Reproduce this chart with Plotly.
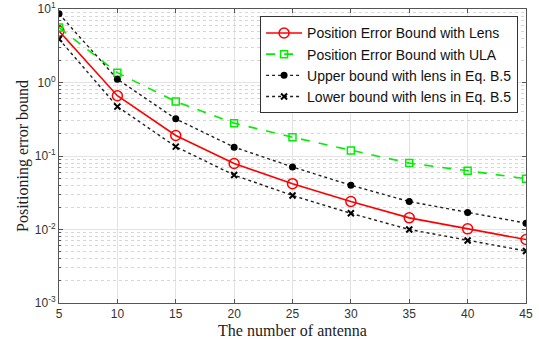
import plotly.graph_objects as go

antennas = [5, 10, 15, 20, 25, 30, 35, 40, 45]
peb_lens = [5.0, 0.66, 0.19, 0.079, 0.042, 0.024, 0.0144, 0.0102, 0.0073]
peb_ula = [5.6, 1.36, 0.55, 0.28, 0.18, 0.119, 0.080, 0.063, 0.049]
upper_lens = [8.6, 1.11, 0.32, 0.132, 0.071, 0.040, 0.024, 0.017, 0.0122]
lower_lens = [3.9, 0.47, 0.134, 0.055, 0.029, 0.0166, 0.0100, 0.0071, 0.0051]

x_ticks = [5, 10, 15, 20, 25, 30, 35, 40, 45]
y_tickvals = [1e-3, 1e-2, 1e-1, 1e0, 1e1]
y_ticktext = ["10<sup>-3</sup>", "10<sup>-2</sup>", "10<sup>-1</sup>", "10<sup>0</sup>", "10<sup>1</sup>"]
y_minor = [m * d for d in [1e-3, 1e-2, 1e-1, 1e0] for m in range(2, 10)]

fig = go.Figure()
fig.add_trace(go.Scatter(x=antennas, y=peb_lens, mode="lines+markers",
                         name="Position Error Bound with Lens",
                         line=dict(color="#ff0000", width=1.6),
                         marker=dict(symbol="circle-open", size=10, color="#ff0000", line=dict(width=1.5))))
fig.add_trace(go.Scatter(x=antennas, y=peb_ula, mode="lines+markers",
                         name="Position Error Bound with ULA",
                         line=dict(color="#00ee00", width=1.6, dash="dash"),
                         marker=dict(symbol="square-open", size=7, color="#00ee00", line=dict(width=1.5))))
fig.add_trace(go.Scatter(x=antennas, y=upper_lens, mode="lines+markers",
                         name="Upper bound with lens in Eq. B.5",
                         line=dict(color="#222222", width=1.4, dash="dot"),
                         marker=dict(symbol="circle", size=7, color="#000000")))
fig.add_trace(go.Scatter(x=antennas, y=lower_lens, mode="lines+markers",
                         name="Lower bound with lens in Eq. B.5",
                         line=dict(color="#222222", width=1.4, dash="dot"),
                         marker=dict(symbol="x-thin-open", size=6, color="#000000", line=dict(width=2))))

tickfont = dict(family="Liberation Sans, Arial", size=12, color="#333333")
titlefont = dict(family="Liberation Serif, Times New Roman", size=16, color="#222222")

fig.update_layout(
    width=539, height=350,
    margin=dict(l=59, r=13, t=9, b=47, autoexpand=False),
    plot_bgcolor="white", paper_bgcolor="white",
    showlegend=True,
    xaxis=dict(range=[5, 45], tickvals=x_ticks, automargin=False,
               showline=True, linecolor="#555555", linewidth=1, mirror="ticks",
               ticks="inside", ticklen=4, tickcolor="#555555",
               showgrid=True, gridcolor="#e3e3e3", gridwidth=1, zeroline=False,
               tickfont=tickfont,
               title=dict(text="The number of antenna", standoff=4, font=titlefont)),
    yaxis2=dict(type="log", range=[-3, 1], overlaying="y", side="left", automargin=False,
                tickvals=y_minor, showticklabels=False,
                showgrid=True, gridcolor="#d6d6d6", gridwidth=1, griddash="dot",
                ticks="inside", ticklen=2, tickcolor="#555555",
                showline=False, zeroline=False, layer="below traces"),
    yaxis=dict(type="log", range=[-3, 1], tickvals=y_tickvals, ticktext=y_ticktext, automargin=False,
               showline=True, linecolor="#555555", linewidth=1, mirror="ticks",
               ticks="inside", ticklen=4, tickcolor="#555555",
               showgrid=True, gridcolor="#e3e3e3", gridwidth=1, zeroline=False,
               tickfont=tickfont, ticklabeloverflow="allow",
               title=dict(text="Positioning error bound", standoff=2, font=titlefont)),
    legend=dict(x=0.983, y=0.975, xanchor="right", yanchor="top",
                bgcolor="white", bordercolor="#333333", borderwidth=1,
                font=dict(family="Liberation Sans, Arial", size=14, color="#111111"),
                tracegroupgap=0, itemwidth=36),
)

# invisible trace to activate the minor-grid axis
fig.add_trace(go.Scatter(x=[antennas[0]], y=[peb_lens[0]], yaxis="y2", mode="markers",
                         marker=dict(opacity=0), showlegend=False, hoverinfo="skip"))

fig.write_html("out.html")
